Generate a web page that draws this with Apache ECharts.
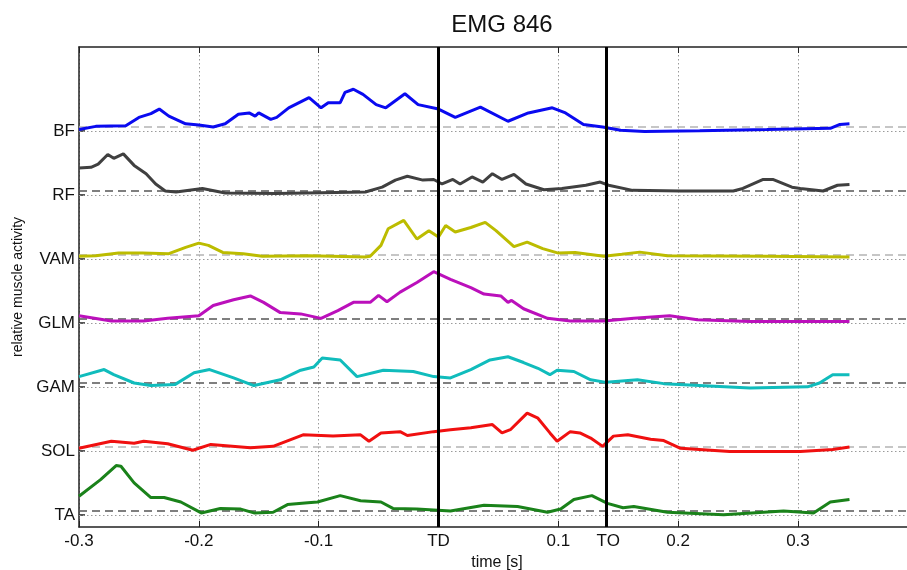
<!DOCTYPE html>
<html>
<head>
<meta charset="utf-8">
<script src="https://cdn.jsdelivr.net/npm/echarts@6/dist/echarts.min.js"></script>
<style>
  html, body { margin: 0; padding: 0; background: #fff; }
  #emg { width: 907px; height: 570px; }
</style>
</head>
<body>
<div id="emg"></div>
<script>
// muscles, top to bottom
var muscles = ['BF', 'RF', 'VAM', 'GLM', 'GAM', 'SOL', 'TA'];
var colors = ['#0a0af0', '#404040', '#bcbc00', '#bb10bb', '#10bcbc', '#f01010', '#1a821a'];
var baseColors = ['#b4b4b4', '#555555', '#b4b4b4', '#555555', '#555555', '#b4b4b4', '#555555'];

// x ticks / labels (TD = touchdown, TO = toe off)
var xTickValues = [-0.3, -0.2, -0.1, 0, 0.1, 0.1417, 0.2, 0.3];
var xTickLabels = ['-0.3', '-0.2', '-0.1', 'TD', '0.1', 'TO', '0.2', '0.3'];
var TD = 0, TO = 0.1417;

// [time s, activity above baseline]
var BF = [[-0.300,-0.05],[-0.286,0],[-0.261,0.01],[-0.250,0.14],[-0.240,0.2],[-0.233,0.27],[-0.225,0.16],[-0.211,0.04],[-0.200,0.02],[-0.188,-0.01],[-0.178,0.04],[-0.167,0.19],[-0.158,0.21],[-0.153,0.16],[-0.150,0.21],[-0.140,0.11],[-0.135,0.14],[-0.125,0.29],[-0.108,0.45],[-0.098,0.29],[-0.092,0.37],[-0.082,0.37],[-0.078,0.53],[-0.071,0.58],[-0.063,0.5],[-0.052,0.34],[-0.044,0.29],[-0.028,0.51],[-0.017,0.34],[0,0.27],[0.014,0.14],[0.035,0.30],[0.058,0.08],[0.075,0.21],[0.095,0.29],[0.106,0.21],[0.121,0.03],[0.137,-0.01],[0.152,-0.06],[0.172,-0.08],[0.218,-0.07],[0.274,-0.05],[0.327,-0.03],[0.335,0.03],[0.343,0.04]];
var RF = [[-0.300,0.35],[-0.290,0.36],[-0.284,0.41],[-0.276,0.56],[-0.271,0.5],[-0.263,0.57],[-0.254,0.39],[-0.244,0.26],[-0.236,0.10],[-0.228,-0.01],[-0.219,-0.025],[-0.197,0.03],[-0.178,-0.04],[-0.136,-0.05],[-0.061,-0.025],[-0.047,0.05],[-0.036,0.16],[-0.026,0.22],[-0.013,0.16],[-0.004,0.17],[0.003,0.10],[0.012,0.17],[0.018,0.10],[0.028,0.21],[0.037,0.13],[0.045,0.26],[0.053,0.17],[0.063,0.25],[0.073,0.10],[0.088,0.01],[0.103,0.03],[0.123,0.08],[0.135,0.13],[0.142,0.08],[0.162,0],[0.202,-0.01],[0.246,-0.01],[0.254,0.03],[0.271,0.17],[0.279,0.17],[0.295,0.05],[0.302,0.03],[0.321,-0.01],[0.333,0.08],[0.343,0.09]];
var VAM = [[-0.300,-0.03],[-0.286,-0.02],[-0.267,0.02],[-0.247,0.02],[-0.225,0.01],[-0.211,0.11],[-0.200,0.175],[-0.192,0.14],[-0.180,0.03],[-0.163,0.01],[-0.147,-0.03],[-0.108,-0.02],[-0.061,-0.04],[-0.057,-0.03],[-0.048,0.14],[-0.042,0.40],[-0.029,0.53],[-0.018,0.24],[-0.008,0.37],[0,0.27],[0.006,0.45],[0.014,0.35],[0.027,0.42],[0.039,0.50],[0.048,0.37],[0.063,0.12],[0.074,0.19],[0.087,0.09],[0.100,0.02],[0.114,0.03],[0.138,-0.03],[0.153,0],[0.168,0.035],[0.191,-0.02],[0.274,-0.03],[0.343,-0.04]];
var GLM = [[-0.300,0.04],[-0.273,-0.04],[-0.246,-0.04],[-0.226,0],[-0.200,0.04],[-0.188,0.20],[-0.171,0.29],[-0.157,0.35],[-0.146,0.25],[-0.132,0.09],[-0.115,0.07],[-0.098,0],[-0.084,0.12],[-0.071,0.25],[-0.057,0.25],[-0.050,0.36],[-0.043,0.26],[-0.032,0.41],[-0.018,0.56],[-0.004,0.73],[0.010,0.61],[0.027,0.48],[0.038,0.38],[0.052,0.35],[0.058,0.25],[0.061,0.28],[0.071,0.15],[0.091,0],[0.110,-0.04],[0.138,-0.04],[0.163,0],[0.193,0.04],[0.216,-0.02],[0.260,-0.05],[0.343,-0.05]];
var GAM = [[-0.300,0.09],[-0.279,0.20],[-0.271,0.12],[-0.254,-0.01],[-0.240,-0.05],[-0.220,-0.035],[-0.204,0.15],[-0.191,0.20],[-0.171,0.07],[-0.154,-0.05],[-0.132,0.04],[-0.115,0.19],[-0.104,0.24],[-0.097,0.38],[-0.082,0.35],[-0.068,0.09],[-0.046,0.19],[-0.021,0.17],[-0.004,0.09],[0.010,0.07],[0.027,0.20],[0.043,0.35],[0.058,0.40],[0.071,0.31],[0.083,0.22],[0.093,0.12],[0.099,0.19],[0.113,0.17],[0.127,0.04],[0.140,0],[0.166,0.04],[0.188,-0.02],[0.260,-0.09],[0.308,-0.07],[0.318,-0.01],[0.329,0.12],[0.343,0.12]];
var SOL = [[-0.300,-0.03],[-0.273,0.08],[-0.254,0.05],[-0.246,0.08],[-0.226,0.04],[-0.205,-0.06],[-0.190,0.03],[-0.157,-0.02],[-0.138,0],[-0.113,0.18],[-0.088,0.16],[-0.065,0.18],[-0.058,0.08],[-0.048,0.21],[-0.032,0.23],[-0.026,0.17],[-0.004,0.23],[0.010,0.26],[0.027,0.29],[0.045,0.34],[0.053,0.21],[0.060,0.26],[0.074,0.52],[0.083,0.44],[0.093,0.21],[0.099,0.08],[0.110,0.23],[0.118,0.21],[0.127,0.13],[0.137,0],[0.146,0.16],[0.158,0.18],[0.177,0.11],[0.188,0.09],[0.202,-0.03],[0.243,-0.08],[0.302,-0.08],[0.329,-0.05],[0.343,-0.01]];
var TA = [[-0.300,0.22],[-0.282,0.48],[-0.269,0.70],[-0.265,0.69],[-0.254,0.43],[-0.240,0.20],[-0.229,0.20],[-0.215,0.13],[-0.198,-0.04],[-0.182,0.03],[-0.165,0.02],[-0.154,-0.04],[-0.138,-0.03],[-0.126,0.09],[-0.109,0.12],[-0.101,0.13],[-0.082,0.23],[-0.065,0.15],[-0.048,0.13],[-0.038,0.03],[-0.018,0.02],[0.010,-0.01],[0.038,0.08],[0.066,0.06],[0.091,-0.03],[0.102,0.02],[0.113,0.17],[0.128,0.23],[0.141,0.11],[0.154,0.04],[0.163,0.06],[0.191,-0.03],[0.238,-0.07],[0.288,-0.01],[0.313,-0.04],[0.327,0.13],[0.343,0.17]];

var traces = [BF, RF, VAM, GLM, GAM, SOL, TA];
var baseOffset = 0.07;   // dashed baseline sits a little above each tick

var font = 'Liberation Sans, Arial, sans-serif';
var series = [];
for (var i = 0; i < muscles.length; i++) {
    var level = muscles.length - 1 - i;   // TA = 0 ... BF = 6
    series.push({
        name: muscles[i],
        type: 'line',
        showSymbol: false,
        z: 3,
        lineStyle: { color: colors[i], width: 3 },
        data: traces[i].map(function (p) { return [p[0], level + baseOffset + p[1]]; }),
        markLine: {
            silent: true,
            symbol: 'none',
            z: 1,
            label: { show: false },
            data: [
                { yAxis: level, lineStyle: { color: '#9a9a9a', type: [1.5, 2.5], width: 1 } },
                { yAxis: level + baseOffset, lineStyle: { color: baseColors[i], type: [8, 5], width: 1.5 } }
            ]
        }
    });
}
// TD / TO event lines
series.push({
    name: 'events',
    type: 'line',
    data: [],
    z: 5,
    markLine: {
        silent: true,
        symbol: 'none',
        label: { show: false },
        lineStyle: { color: '#000', type: 'solid', width: 3 },
        data: [{ xAxis: TD }, { xAxis: TO }]
    }
});

var chart = echarts.init(document.getElementById('emg'));
chart.setOption({
    animation: false,
    title: {
        text: 'EMG 846',
        left: 497,
        top: 8,
        textAlign: 'center',
        textStyle: { fontFamily: font, fontSize: 24, fontWeight: 'normal', color: '#111' }
    },
    grid: { left: 79, right: 0, top: 47, bottom: 43, outerBoundsMode: 'none' },
    xAxis: [{
        type: 'value',
        position: 'bottom',
        min: -0.3,
        max: 0.391,
        interval: 0.1,
        name: 'time [s]',
        nameLocation: 'middle',
        nameGap: 27,
        nameTextStyle: { fontFamily: font, fontSize: 16, color: '#111', padding: [0, 0, 0, 8] },
        axisLine: { onZero: false, lineStyle: { color: '#222', width: 1.5 } },
        axisTick: { inside: true, length: 6, lineStyle: { color: '#222' } },
        axisLabel: {
            customValues: xTickValues,
            margin: 6,
            fontFamily: font, fontSize: 17, color: '#111',
            formatter: function (v) {
                for (var k = 0; k < xTickValues.length; k++) {
                    if (Math.abs(xTickValues[k] - v) < 1e-6) return xTickLabels[k];
                }
                return '';
            }
        },
        splitLine: { show: true, lineStyle: { color: '#9a9a9a', type: [1.5, 2.5], width: 1 } }
    }, {
        type: 'value',
        position: 'top',
        min: -0.3,
        max: 0.391,
        interval: 0.1,
        axisLine: { onZero: false, lineStyle: { color: '#222', width: 1.5 } },
        axisTick: { inside: true, length: 6, lineStyle: { color: '#222' } },
        axisLabel: { show: false },
        splitLine: { show: false }
    }],
    yAxis: {
        type: 'value',
        min: -0.19,
        max: 7.31,
        name: 'relative muscle activity',
        nameLocation: 'middle',
        nameGap: 50,
        nameTextStyle: { fontFamily: font, fontSize: 14, color: '#111' },
        axisLine: { show: true, onZero: false, lineStyle: { color: '#222', width: 1.5 } },
        axisTick: { show: true, inside: true, length: 6, customValues: [0, 1, 2, 3, 4, 5, 6], lineStyle: { color: '#222', width: 1.5 } },
        axisLabel: {
            customValues: [0, 1, 2, 3, 4, 5, 6],
            margin: 4,
            fontFamily: font, fontSize: 17, color: '#111',
            formatter: function (v) { return muscles[muscles.length - 1 - Math.round(v)]; }
        },
        splitLine: { show: false }
    },
    series: series
});
</script>
</body>
</html>
